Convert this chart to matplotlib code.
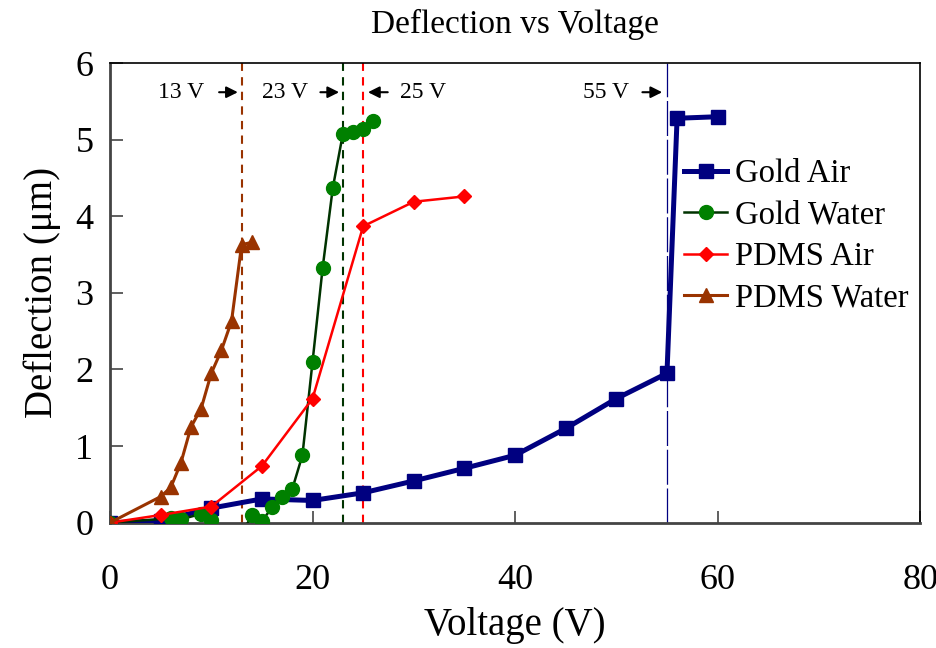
import matplotlib
matplotlib.use('Agg')
import matplotlib.pyplot as plt

plt.rcParams['font.family'] = ['Liberation Serif', 'DejaVu Serif']

navy = '#000080'
green_line = '#003300'
green_mark = '#008000'
red = '#FF0000'
brown = '#993300'

# Gold Air
gold_air_v = [0, 5, 10, 15, 20, 25, 30, 35, 40, 45, 50, 55, 56, 60]
gold_air_d = [0, 0.02, 0.19, 0.31, 0.29, 0.39, 0.545, 0.71, 0.88, 1.23, 1.62, 1.95, 5.28, 5.30]

# Gold Water (points at 11-13 V fall below the axis and are clipped)
gold_water_v = [0, 6, 7, 9, 10, 11, 12, 13, 14, 15, 16, 17, 18, 19, 20, 21, 22, 23, 24, 25, 26]
gold_water_d = [0, 0.057, 0.044, 0.114, 0.035, -0.19, -0.3, -0.15, 0.097, 0.018, 0.2, 0.34,
                0.44, 0.88, 2.10, 3.33, 4.37, 5.08, 5.10, 5.14, 5.24]

# PDMS Air
pdms_air_v = [0, 5, 10, 15, 20, 25, 30, 35]
pdms_air_d = [0, 0.1, 0.21, 0.74, 1.62, 3.87, 4.19, 4.26]

# PDMS Water
pdms_water_v = [0, 5, 6, 7, 8, 9, 10, 11, 12, 13, 14]
pdms_water_d = [0, 0.34, 0.46, 0.78, 1.25, 1.49, 1.95, 2.25, 2.63, 3.63, 3.66]

# pull-in voltages
pull_in = [13, 23, 25, 55]
pull_in_colors = [brown, green_line, red, navy]

fig = plt.figure(figsize=(9.37, 6.48), dpi=100)
ax = fig.add_axes([0.1174, 0.1934, 0.8646, 0.7092])

for v, c in zip(pull_in[:3], pull_in_colors[:3]):
    ax.axvline(v, color=c, lw=1.5, linestyle=(0, (4, 3)), zorder=1)
ax.axvline(pull_in[3], color=navy, lw=0.9, linestyle=(0, (28, 3)), zorder=1)

ax.plot(gold_air_v, gold_air_d, color=navy, lw=3.6, marker='s', ms=9.5,
        label='Gold Air', zorder=3)
ax.plot(gold_water_v, gold_water_d, color=green_line, lw=1.8, marker='o', ms=10,
        mfc=green_mark, mec=green_mark, label='Gold Water', zorder=4)
ax.plot(pdms_air_v, pdms_air_d, color=red, lw=1.8, marker='D', ms=7,
        label='PDMS Air', zorder=5)
ax.plot(pdms_water_v, pdms_water_d, color=brown, lw=2.2, marker='^', ms=10,
        label='PDMS Water', zorder=6)

# annotations
arrow = dict(arrowstyle='-|>', color='black', lw=1.5, mutation_scale=17)
ty = 5.62
ax.annotate('', xy=(12.9, ty), xytext=(10.5, ty), arrowprops=arrow)
ax.text(7.0, ty, '13 V', fontsize=17, ha='center', va='center')
ax.annotate('', xy=(22.9, ty), xytext=(20.5, ty), arrowprops=arrow)
ax.text(17.3, ty, '23 V', fontsize=17, ha='center', va='center')
ax.annotate('', xy=(25.2, ty), xytext=(27.7, ty), arrowprops=arrow)
ax.text(30.9, ty, '25 V', fontsize=17, ha='center', va='center')
ax.annotate('', xy=(54.8, ty), xytext=(52.3, ty), arrowprops=arrow)
ax.text(49.0, ty, '55 V', fontsize=17, ha='center', va='center')

ax.set_xlim(0, 80)
ax.set_ylim(0, 6)
ax.set_xticks([0, 20, 40, 60, 80])
ax.set_yticks([0, 1, 2, 3, 4, 5, 6])
ax.tick_params(direction='in', length=9, width=1.2, color='#444444', labelsize=26)
ax.tick_params(axis='x', pad=30)
ax.tick_params(axis='y', pad=12)
for s in ['left', 'bottom']:
    ax.spines[s].set_color('#444444')
    ax.spines[s].set_linewidth(2)
for s in ['top', 'right']:
    ax.spines[s].set_linewidth(1.2)

ax.set_title('Deflection vs Voltage', fontsize=24, pad=22)
ax.set_xlabel('Voltage (V)', fontsize=28, labelpad=7)
ax.set_ylabel('Deflection (μm)', fontsize=28, labelpad=10)

ax.legend(loc='upper left', bbox_to_anchor=(0.693, 0.82), frameon=False,
          fontsize=23.5, handlelength=1.3, handletextpad=0.25, labelspacing=0.33,
          borderaxespad=0)

fig.savefig('out.png', dpi=100)
